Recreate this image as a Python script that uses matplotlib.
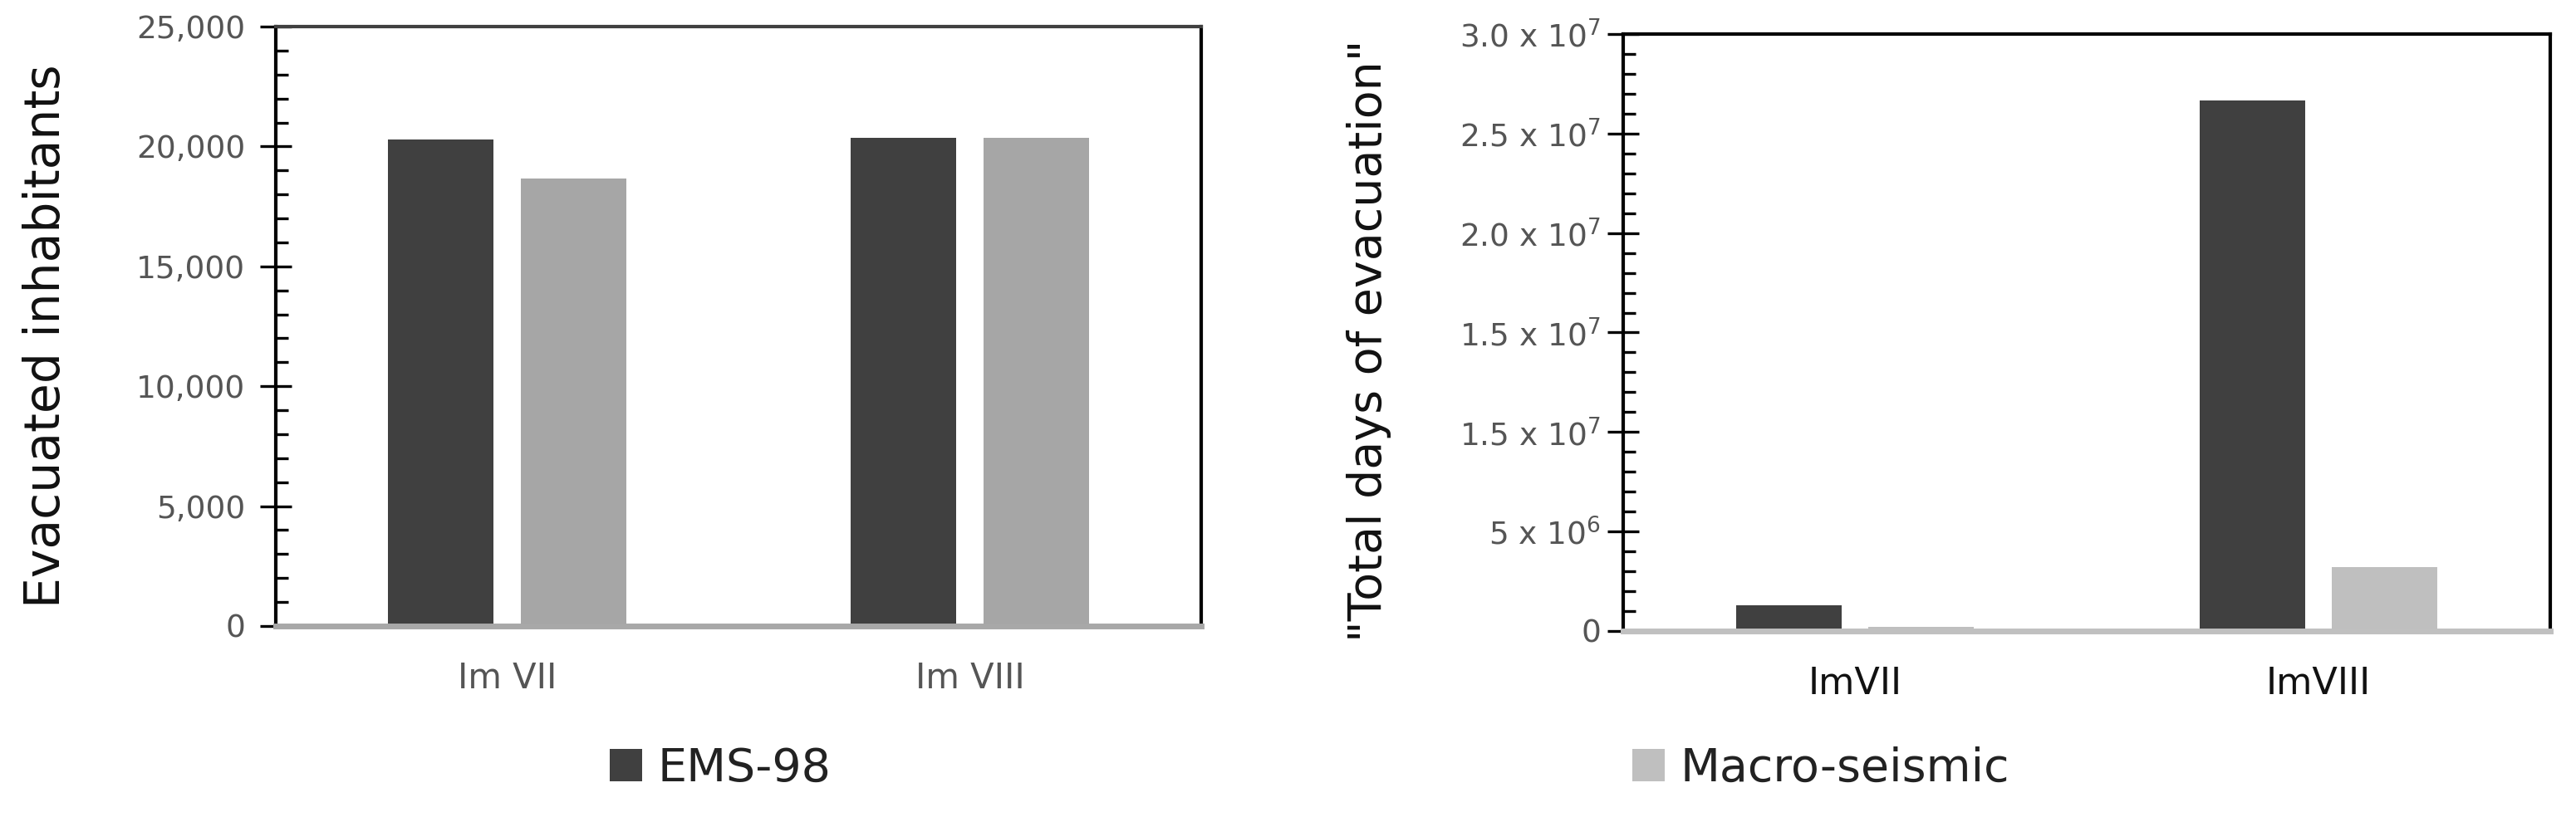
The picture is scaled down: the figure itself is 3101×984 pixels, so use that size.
import numpy as np
import matplotlib
matplotlib.use("Agg")
import matplotlib.pyplot as plt
from matplotlib.ticker import MultipleLocator, FixedLocator, StrMethodFormatter

# data
cats_left = ["Im VII", "Im VIII"]
cats_right = ["ImVII", "ImVIII"]
ems_inhabitants = [20300, 20360]
macro_inhabitants = [18650, 20360]
ems_days = [1.29e6, 2.665e7]
macro_days = [2.1e5, 3.21e6]

left_yticks = [0, 5000, 10000, 15000, 20000, 25000]
right_yticks = [0, 5e6, 1e7, 1.5e7, 2e7, 2.5e7, 3e7]
# labels as printed in the original (second one really says 1.5)
right_yticklabels = ["0", "5 x 10$^6$", "1.5 x 10$^7$", "1.5 x 10$^7$",
                     "2.0 x 10$^7$", "2.5 x 10$^7$", "3.0 x 10$^7$"]

dark = "#404040"
light_l = "#a6a6a6"
light_r = "#bfbfbf"
W, H = 3101, 984

plt.rcParams["font.family"] = ["DejaVu Sans"]
fig = plt.figure(figsize=(W / 100, H / 100), dpi=100)

ax1 = fig.add_axes([332 / W, 1 - 754 / H, 1114 / W, 722 / H])
ax2 = fig.add_axes([1954 / W, 1 - 760 / H, 1116 / W, 719 / H])

bw = 0.228
off = 0.143
x = np.arange(len(cats_left))

b1 = ax1.bar(x - off, ems_inhabitants, bw, color=dark, linewidth=0)
ax1.bar(x + off, macro_inhabitants, bw, color=light_l, linewidth=0)
ax2.bar(x - off, ems_days, bw, color=dark, linewidth=0)
b2 = ax2.bar(x + off, macro_days, bw, color=light_r, linewidth=0)

for ax in (ax1, ax2):
    ax.set_xlim(-0.5, 1.5)
    ax.set_xticks(x)
    ax.tick_params(axis="x", length=0, pad=30)
    ax.tick_params(axis="y", which="major", direction="inout", length=27,
                   width=2.4, color="black")
    ax.tick_params(axis="y", which="minor", direction="in", length=11,
                   width=2.4, color="black")
    ax.spines["left"].set_color("black")
    ax.spines["right"].set_color("black")
    for s in ax.spines.values():
        s.set_linewidth(3)
    ax.spines["bottom"].set_linewidth(5)

# left panel
ax1.set_ylim(0, 25000)
ax1.yaxis.set_major_locator(FixedLocator(left_yticks))
ax1.yaxis.set_minor_locator(MultipleLocator(1000))
ax1.yaxis.set_major_formatter(StrMethodFormatter("{x:,.0f}"))
ax1.set_xticklabels(cats_left, fontsize=30, color="#555555")
ax1.tick_params(axis="y", labelsize=27, labelcolor="#555555", pad=13)
ax1.spines["top"].set_color("#404040")
ax1.spines["bottom"].set_color("#a8a8a8")

# right panel
ax2.set_ylim(0, 3e7)
ax2.yaxis.set_major_locator(FixedLocator(right_yticks))
ax2.yaxis.set_minor_locator(MultipleLocator(1e6))
ax2.set_yticklabels(right_yticklabels)
ax2.set_xticklabels(cats_right, fontsize=32, color="#111111")
ax2.tick_params(axis="y", labelsize=27, labelcolor="#555555", pad=6)
ax2.spines["top"].set_color("black")
ax2.spines["bottom"].set_color("#c0c0c0")

fig.text(56 / W, 1 - 405 / H, "Evacuated inhabitants", rotation=90,
         ha="center", va="center", fontsize=42, color="#111111")
fig.text(1648 / W, 1 - 410 / H, '"Total days of evacuation"', rotation=90,
         ha="center", va="center", fontsize=40, color="#111111")

ax1.legend([b1], ["EMS-98"], loc="center left",
           bbox_to_anchor=(734 / W, 1 - 926 / H), bbox_transform=fig.transFigure,
           frameon=False, fontsize=40, handlelength=0.7, handleheight=0.7,
           handletextpad=0.33, borderpad=0, borderaxespad=0, labelcolor="#222222")
ax2.legend([b2], ["Macro-seismic"], loc="center left",
           bbox_to_anchor=(1965 / W, 1 - 926 / H), bbox_transform=fig.transFigure,
           frameon=False, fontsize=40, handlelength=0.7, handleheight=0.7,
           handletextpad=0.33, borderpad=0, borderaxespad=0, labelcolor="#222222")

fig.savefig("out.png", dpi=100, facecolor="white")
